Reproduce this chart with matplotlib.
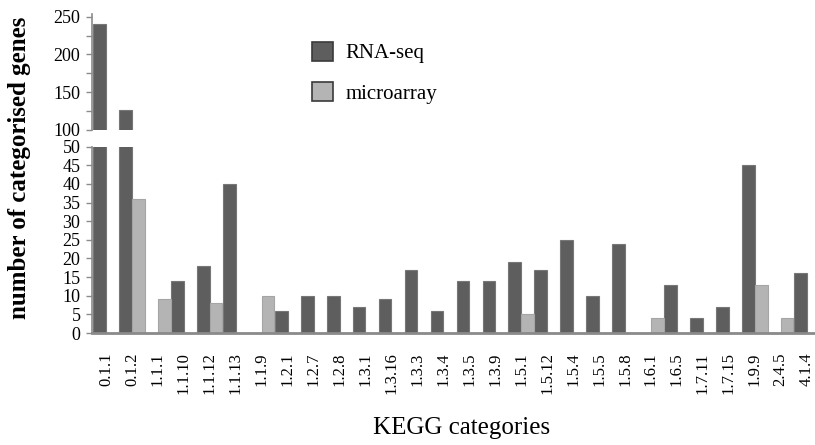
import numpy as np
import matplotlib
matplotlib.use("Agg")
import matplotlib.pyplot as plt
from matplotlib.patches import Patch

plt.rcParams["font.family"] = ["Liberation Serif", "DejaVu Serif"]

categories = ["0.1.1", "0.1.2", "1.1.1", "1.1.10", "1.1.12", "1.1.13", "1.1.9",
              "1.2.1", "1.2.7", "1.2.8", "1.3.1", "1.3.16", "1.3.3", "1.3.4",
              "1.3.5", "1.3.9", "1.5.1", "1.5.12", "1.5.4", "1.5.5", "1.5.8",
              "1.6.1", "1.6.5", "1.7.11", "1.7.15", "1.9.9", "2.4.5", "4.1.4"]
rna_seq = [240, 126, 0, 14, 18, 40, 0, 6, 10, 10, 7, 9, 17, 6,
           14, 14, 19, 17, 25, 10, 24, 0, 13, 4, 7, 45, 0, 16]
microarray = [0, 36, 9, 0, 8, 0, 10, 0, 0, 0, 0, 0, 0, 0,
              0, 0, 5, 0, 0, 0, 0, 4, 0, 0, 0, 13, 4, 0]

dark = "#5e5e5e"
light = "#b4b4b4"
spine_col = "#8a8a8a"

W, H = 815, 445
fig = plt.figure(figsize=(W / 100, H / 100), dpi=100)

left = 91.5
x0 = -0.556
x1 = 27.32


def frac_box(top_px, bottom_px):
    return [left / W, 1 - bottom_px / H, (W - left) / W, (bottom_px - top_px) / H]


ax_top = fig.add_axes(frac_box(13.7, 130))
ax_low = fig.add_axes(frac_box(146.7, 333))

x = np.arange(len(categories))
bw = 0.49
for ax in (ax_top, ax_low):
    ax.bar(x - bw / 2, rna_seq, bw, color=dark, edgecolor="#777777", linewidth=0.8)
    ax.bar(x + bw / 2, microarray, bw, color=light, edgecolor="#a5a5a5", linewidth=0.8)
    ax.set_xlim(x0, x1)
    for s in ("top", "right"):
        ax.spines[s].set_visible(False)
    ax.spines["left"].set_color(spine_col)
    ax.spines["left"].set_linewidth(1.2)
    ax.tick_params(axis="y", direction="out", length=4, width=1, color=spine_col,
                   labelsize=13, pad=4)

# upper segment of the broken axis
ax_top.set_ylim(100, 254)
ax_top.set_yticks([100, 150, 200, 250])
ax_top.set_yticks([125, 175, 225], minor=True)
ax_top.tick_params(axis="y", which="minor", direction="out", length=4, width=1,
                   color=spine_col)
ax_top.spines["bottom"].set_visible(False)
ax_top.set_xticks([])

# lower segment
ax_low.set_ylim(0, 50)
ax_low.set_yticks(np.arange(0, 51, 5))
ax_low.spines["bottom"].set_color(spine_col)
ax_low.spines["bottom"].set_linewidth(2)
ax_low.set_xticks(x)
ax_low.set_xticklabels(categories, rotation=90, fontsize=12)
ax_low.tick_params(axis="x", length=0, pad=14)

fig.text(20 / W, 1 - 168 / H, "number of categorised genes", rotation=90,
         ha="center", va="center", fontsize=18, fontweight="bold")
fig.text(462 / W, 1 - 428 / H, "KEGG categories", ha="center", va="center",
         fontsize=18)

handles = [Patch(facecolor=dark, edgecolor="#3a3a3a", linewidth=1.2, label="RNA-seq"),
           Patch(facecolor=light, edgecolor="#3a3a3a", linewidth=1.2, label="microarray")]
fig.legend(handles=handles, loc="upper left", bbox_to_anchor=(312 / W, 1 - 42 / H),
           frameon=False, fontsize=15, handlelength=1.0, handleheight=1.0,
           handletextpad=0.6, labelspacing=0.9, borderpad=0, borderaxespad=0)

fig.savefig("out.png", dpi=100)
